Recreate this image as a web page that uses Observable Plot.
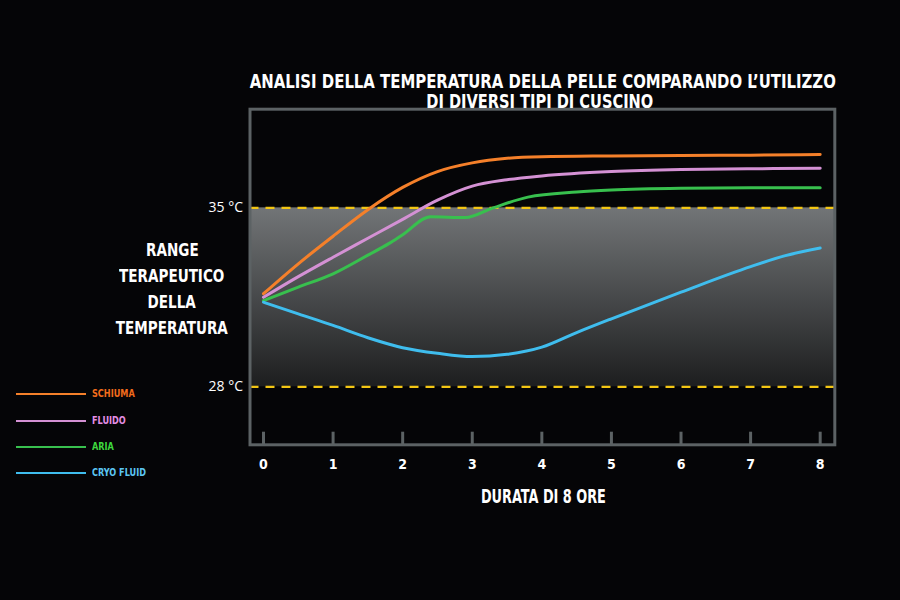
<!DOCTYPE html>
<html><head><meta charset="utf-8">
<script src="https://cdn.jsdelivr.net/npm/d3@7"></script>
<script src="https://cdn.jsdelivr.net/npm/@observablehq/plot@0.6"></script>
<style>
html,body{margin:0;padding:0;background:#050507;}
#wrap{position:relative;width:900px;height:600px;background:#050507;overflow:hidden;
  font-family:"Liberation Sans Narrow","DejaVu Sans Condensed","Roboto",sans-serif;color:#fff;}
#wrap svg{position:absolute;left:0;top:0;}
.t{position:absolute;font-weight:bold;white-space:nowrap;text-align:center;}
.fit{display:inline-block;transform-origin:center center;}
.lgline{position:absolute;left:16px;width:70px;height:2px;}
.lgtxt{position:absolute;left:92px;font-size:11px;line-height:14px;font-weight:bold;white-space:nowrap;}
.lgtxt span{display:inline-block;transform-origin:left center;}
</style></head><body>
<div id="wrap">
  <div id="chart"></div>
  <div class="t" style="left:-57px;width:1200px;top:71.4px;font-size:20px;line-height:20px;">
    <span class="fit" id="tl1">ANALISI DELLA TEMPERATURA DELLA PELLE COMPARANDO L’UTILIZZO</span>
  </div>
  <div class="t" style="left:-60px;width:1200px;top:91.4px;font-size:20px;line-height:20px;">
    <span class="fit" id="tl2">DI DIVERSI TIPI DI CUSCINO</span>
  </div>
  <div class="t" id="side" style="left:-128px;width:600px;top:237px;font-size:18.5px;line-height:26px;">
    <span class="fit sl">RANGE</span><br>
    <span class="fit sl">TERAPEUTICO</span><br>
    <span class="fit sl">DELLA</span><br>
    <span class="fit sl" id="slref">TEMPERATURA</span>
  </div>
  <div class="t" style="left:143px;width:800px;top:486px;font-size:20px;line-height:20px;">
    <span class="fit" id="xlab">DURATA DI 8 ORE</span>
  </div>
  <div id="legend"></div>
</div>
<script>
const seriesNames = ["SCHIUMA", "FLUIDO", "ARIA", "CRYO FLUID"];
const lineColors = ["#f5802a", "#d491d4", "#38c04e", "#3fbdee"];
const labelColors = ["#f26c1c", "#e38ee3", "#3ed83e", "#5cc6f2"];

const schiumaHours = [0, 0.5, 1, 1.5, 2, 2.5, 3, 3.5, 4, 5, 6, 7, 8];
const schiumaTemp  = [31.64, 32.81, 33.89, 34.93, 35.8, 36.42, 36.76, 36.94, 37.0, 37.03, 37.05, 37.06, 37.09];
const fluidoHours  = [0, 0.5, 1, 1.5, 2, 2.5, 3, 3.5, 4, 5, 6, 7, 8];
const fluidoTemp   = [31.5, 32.31, 33.07, 33.81, 34.55, 35.3, 35.85, 36.1, 36.25, 36.42, 36.5, 36.53, 36.55];
const ariaHours    = [0, 0.5, 1, 1.5, 1.8, 2.0, 2.4, 2.9, 3.3, 3.8, 4.5, 5, 6, 7, 8];
const ariaTemp     = [31.37, 31.9, 32.42, 33.15, 33.6, 33.95, 34.65, 34.62, 35.0, 35.42, 35.62, 35.7, 35.77, 35.79, 35.79];
const cryoHours    = [0, 0.5, 1, 1.5, 2, 2.5, 3, 3.5, 4, 4.5, 5, 6, 7, 7.5, 8];
const cryoTemp     = [31.31, 30.85, 30.4, 29.92, 29.53, 29.31, 29.18, 29.27, 29.55, 30.12, 30.66, 31.7, 32.7, 33.13, 33.43];

const xTicks = [0, 1, 2, 3, 4, 5, 6, 7, 8];
const rangeBounds = [28, 35];
const xDomain = [-0.194, 8.21];
const yDomain = [25.73, 38.86];

const rows = [];
[[schiumaHours, schiumaTemp], [fluidoHours, fluidoTemp], [ariaHours, ariaTemp], [cryoHours, cryoTemp]]
  .forEach(([hs, ts], k) => hs.forEach((h, i) => rows.push({series: seriesNames[k], t: h, v: ts[i]})));

const defs = () => {
  const d = d3.create("svg:defs");
  const g = d.append("linearGradient").attr("id", "band")
    .attr("x1", 0).attr("y1", 0).attr("x2", 0).attr("y2", 1);
  g.append("stop").attr("offset", "0%").attr("stop-color", "#727577");
  g.append("stop").attr("offset", "100%").attr("stop-color", "#1d1e1f");
  return d.node();
};

const chart = Plot.plot({
  width: 900, height: 600,
  marginLeft: 249.5, marginRight: 65.7, marginTop: 108.7, marginBottom: 155.7,
  style: {background: "transparent", color: "#fff",
    fontFamily: '"Liberation Sans Narrow","DejaVu Sans Condensed",sans-serif'},
  x: {domain: xDomain},
  y: {domain: yDomain},
  color: {domain: seriesNames, range: lineColors},
  marks: [
    defs,
    Plot.rect([rangeBounds], {x1: () => xDomain[0], x2: () => xDomain[1], y1: d => d[0], y2: d => d[1], fill: "url(#band)"}),
    Plot.ruleY(rangeBounds, {stroke: "#f3c614", strokeWidth: 2.2, strokeDasharray: "9,7"}),
    Plot.line(rows, {x: "t", y: "v", z: "series", stroke: "series", strokeWidth: 3, curve: "monotone-x"}),
    Plot.frame({stroke: "#5c6264", strokeWidth: 3}),
    Plot.tickX(xTicks, {x: d => d, stroke: "#5c6264", strokeWidth: 3, insetTop: 323}),
    Plot.axisX(xTicks, {tickSize: 0, tickPadding: 14, fontSize: 14, fontWeight: "bold", label: null, tickFormat: d => String(d)}),
    Plot.axisY(rangeBounds, {tickSize: 0, tickPadding: 7, fontSize: 14, fontFamily: "Open Sans", tickFormat: d => `${d} °C`, label: null})
  ]
});
document.getElementById("chart").appendChild(chart);

// legend
const legendCenters = [394.3, 420.7, 446.7, 472.7];
const lg = document.getElementById("legend");
seriesNames.forEach((n, i) => {
  const l = document.createElement("div");
  l.className = "lgline";
  l.style.top = (legendCenters[i] - 1) + "px";
  l.style.background = lineColors[i];
  lg.appendChild(l);
  const t = document.createElement("div");
  t.className = "lgtxt";
  t.style.top = (legendCenters[i] - 6.9) + "px";
  t.style.color = labelColors[i];
  t.innerHTML = `<span>${n}</span>`;
  lg.appendChild(t);
});

function scaleTo(el, target) {
  const w = el.getBoundingClientRect().width;
  const s = target / w;
  el.style.transform = `scaleX(${s})`;
  return s;
}
scaleTo(document.getElementById("tl1"), 586);
scaleTo(document.getElementById("tl2"), 227);
scaleTo(document.getElementById("xlab"), 125);
const s = scaleTo(document.getElementById("slref"), 112);
document.querySelectorAll(".sl").forEach(e => e.style.transform = `scaleX(${s})`);
const lgs = document.querySelectorAll(".lgtxt span");
const ls = 54 / lgs[3].getBoundingClientRect().width;
lgs.forEach(e => e.style.transform = `scaleX(${ls})`);
</script>
</body></html>
